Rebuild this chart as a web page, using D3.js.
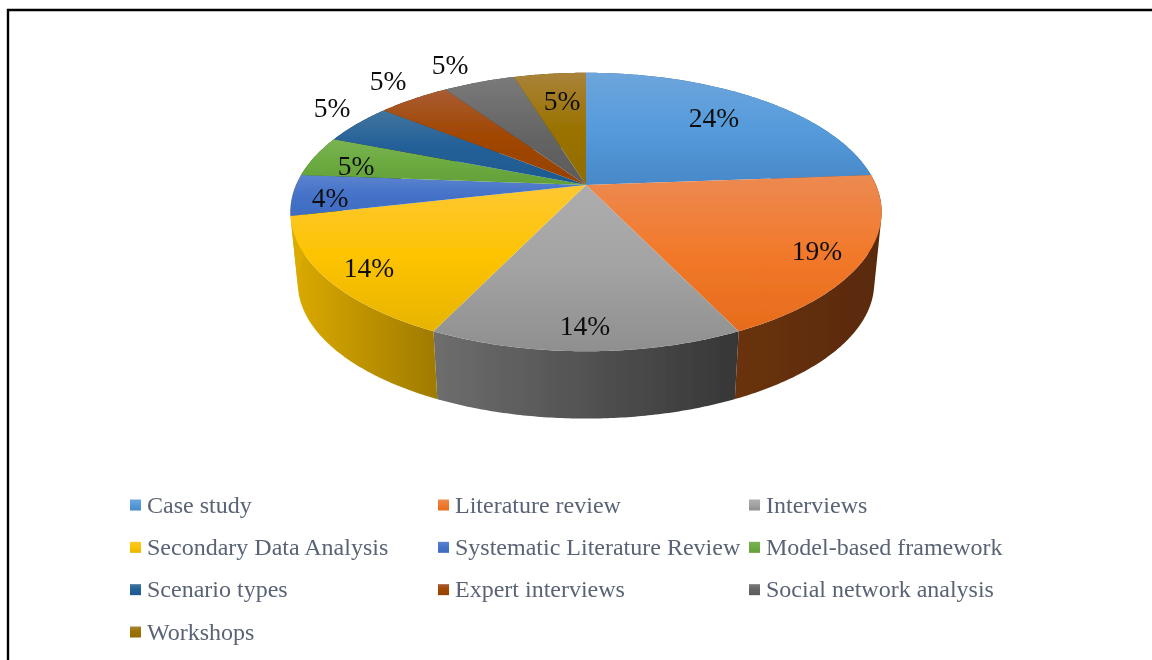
<!DOCTYPE html>
<html>
<head>
<meta charset="utf-8">
<script src="https://cdnjs.cloudflare.com/ajax/libs/d3/7.8.5/d3.min.js"></script>
<style>
    html, body { margin: 0; padding: 0; background: #fff; }
    svg { display: block; }
    text { font-family: "Liberation Serif", serif; }
</style>
</head>
<body>
<svg id="chart" width="1152" height="660"></svg>
<script>
var categories = ['Case study', 'Literature review', 'Interviews', 'Secondary Data Analysis',
    'Systematic Literature Review', 'Model-based framework', 'Scenario types', 'Expert interviews',
    'Social network analysis', 'Workshops'];
var shares = [23.8, 19.05, 14.3, 14.3, 4.76, 4.76, 4.76, 4.76, 4.76, 4.76];
var percentLabels = ['24%', '19%', '14%', '14%', '4%', '5%', '5%', '5%', '5%', '5%'];

// top face gradient, back edge to front edge
var topLight = ['#6ea5dc', '#ec8a52', '#adadad', '#fec832', '#5c83cf', '#7ab352', '#41759f', '#a95c34', '#7a7a7a', '#a9833a'];
var topMid = ['#559bdb', '#f2792a', '#a3a3a3', '#fdc300', '#4472c8', '#6cab41', '#235f98', '#a04600', '#666666', '#9a7200'];
var topDark = ['#4888c8', '#e66c1c', '#8f8f8f', '#e6b400', '#3f6cc0', '#62a038', '#1d5a90', '#964200', '#5a5a5a', '#906c00'];
// the wall next to Secondary Data Analysis reads as gold in the picture
var wallLeft = ['#2c5a86', '#6a3310', '#6e6e6e', '#dcab00', '#dcab00', '#3f6824', '#12385c', '#612a00', '#3b3b3b', '#5b4400'];
var wallRight = ['#2c5a86', '#592908', '#363636', '#9f7a00', '#dcab00', '#3f6824', '#12385c', '#612a00', '#3b3b3b', '#5b4400'];
var legendRows = [0, 0, 0, 1, 1, 1, 2, 2, 2, 3];
var legendCols = [0, 1, 2, 0, 1, 2, 0, 1, 2, 0];

var svg = d3.select('#chart');
var defs = svg.append('defs');

// pie centre and the perspective of the tilted disc
var cx = 586, cy = 185;
var rx = 290, ry = 134, tilt = 0.194;
var wallScale = 0.975, wallDrop = 71.5;

function project(angle) {
    var x = Math.sin(angle);
    var y = -Math.cos(angle);
    var d = 1 - tilt * y;
    return [rx * x / d, ry * y / d];
}

function arcPoints(a0, a1) {
    var n = Math.max(2, Math.ceil((a1 - a0) / 0.01));
    return d3.range(n + 1).map(function (i) {
        return project(a0 + (a1 - a0) * i / n);
    });
}

function lowered(p) {
    return [p[0] * wallScale, p[1] * wallScale + wallDrop];
}

var line = d3.line();
var pie = d3.pie().sort(null).value(function (d) { return d; });
var slices = pie(shares);

var blur = defs.append('filter').attr('id', 'soft')
    .attr('x', '-5%').attr('y', '-5%').attr('width', '110%').attr('height', '110%');
blur.append('feGaussianBlur').attr('stdDeviation', 0.45);

function vertical(id, c0, c1, c2) {
    var g = defs.append('linearGradient').attr('id', id)
        .attr('x1', 0).attr('y1', 0).attr('x2', 0).attr('y2', 1);
    g.append('stop').attr('offset', '0%').attr('stop-color', c0);
    g.append('stop').attr('offset', '50%').attr('stop-color', c1);
    g.append('stop').attr('offset', '100%').attr('stop-color', c2);
}

function horizontal(id, c0, c1) {
    var g = defs.append('linearGradient').attr('id', id)
        .attr('x1', 0).attr('y1', 0).attr('x2', 1).attr('y2', 0);
    g.append('stop').attr('offset', '0%').attr('stop-color', c0);
    g.append('stop').attr('offset', '100%').attr('stop-color', c1);
}

slices.forEach(function (d, i) {
    vertical('top' + i, topLight[i], topMid[i], topDark[i]);
    horizontal('wall' + i, wallLeft[i], wallRight[i]);
});

// black frame of the screenshot, only left and top
svg.append('path')
    .attr('d', line([[8, 660], [8, 10], [1152, 10]]))
    .attr('fill', 'none')
    .attr('stroke', '#000')
    .attr('stroke-width', 2.4);

var plot = svg.append('g')
    .attr('transform', 'translate(' + cx + ',' + cy + ')')
    .attr('filter', 'url(#soft)');

// wall is a sweep of small quads, all wound the same way so overlaps stay filled
plot.selectAll('path.wall')
    .data(slices)
    .enter()
    .append('path')
    .attr('class', 'wall')
    .attr('fill', function (d, i) { return 'url(#wall' + i + ')'; })
    .attr('d', function (d) {
        var upper = arcPoints(d.startAngle, d.endAngle);
        var parts = [];
        for (var i = 0; i < upper.length - 1; i++) {
            var quad = [upper[i], upper[i + 1], lowered(upper[i + 1]), lowered(upper[i])];
            if (d3.polygonArea(quad) < 0) {
                quad.reverse();
            }
            parts.push(line(quad) + 'Z');
        }
        return parts.join('');
    });

plot.selectAll('path.face')
    .data(slices)
    .enter()
    .append('path')
    .attr('class', 'face')
    .attr('fill', function (d, i) { return 'url(#top' + i + ')'; })
    .attr('d', function (d) {
        return line([[0, 0]].concat(arcPoints(d.startAngle, d.endAngle))) + 'Z';
    });

// data labels, placed by hand like the originals (offset from the pie centre)
var labelDx = [128, 231, -1, -217, -256, -230, -254, -198, -136, -24];
var labelDy = [-67, 66, 141, 83, 13, -19, -77, -104, -120, -84];
svg.append('g')
    .attr('filter', 'url(#soft)')
    .selectAll('text')
    .data(percentLabels)
    .enter()
    .append('text')
    .attr('x', function (d, i) { return cx + labelDx[i]; })
    .attr('y', function (d, i) { return cy + labelDy[i]; })
    .attr('text-anchor', 'middle')
    .attr('dy', '0.34em')
    .attr('font-size', 27.5)
    .attr('fill', '#111')
    .text(function (d) { return d; });

// legend
var legendX = d3.scaleOrdinal().domain([0, 1, 2]).range([130, 438, 749]);
var legendY = d3.scaleLinear().domain([0, 3]).range([505, 632]);

var items = svg.append('g')
    .attr('filter', 'url(#soft)')
    .selectAll('g')
    .data(categories)
    .enter()
    .append('g')
    .attr('transform', function (d, i) {
        return 'translate(' + legendX(legendCols[i]) + ',' + legendY(legendRows[i]) + ')';
    });

items.append('rect')
    .attr('y', -5.5)
    .attr('width', 11)
    .attr('height', 11)
    .attr('fill', function (d, i) { return 'url(#top' + i + ')'; });

items.append('text')
    .attr('x', 17)
    .attr('dy', '0.32em')
    .attr('font-size', 24)
    .attr('fill', '#5a6475')
    .text(function (d) { return d; });
</script>
</body>
</html>
